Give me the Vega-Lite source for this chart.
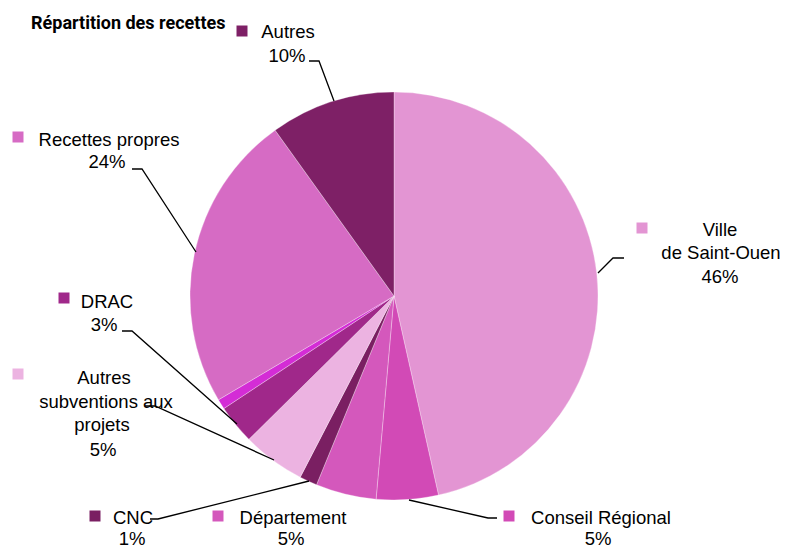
{
  "$schema": "https://vega.github.io/schema/vega-lite/v6.json",
  "width": 784,
  "height": 504,
  "padding": {"left": 2, "top": 44, "right": 0, "bottom": 0},
  "autosize": {"type": "none"},
  "background": "#ffffff",
  "config": {"view": {"stroke": null}},
  "datasets": {
    "slices": [
      {"rank": 1, "source": "Ville de Saint-Ouen", "share": 46.5},
      {"rank": 2, "source": "Conseil Régional", "share": 4.9},
      {"rank": 3, "source": "Département", "share": 4.8},
      {"rank": 4, "source": "CNC", "share": 1.4},
      {"rank": 5, "source": "Autres subventions aux projets", "share": 5.0},
      {"rank": 6, "source": "DRAC", "share": 3.1},
      {"rank": 7, "source": "Divers", "share": 0.8},
      {"rank": 8, "source": "Recettes propres", "share": 23.6},
      {"rank": 9, "source": "Autres", "share": 9.9}
    ],
    "keys": [
      {"source": "Autres", "x": -153, "y": 265},
      {"source": "Ville de Saint-Ouen", "x": 247, "y": 68},
      {"source": "Recettes propres", "x": -377, "y": 159},
      {"source": "DRAC", "x": -331, "y": -2},
      {"source": "Autres subventions aux projets", "x": -377, "y": -78},
      {"source": "CNC", "x": -300, "y": -220},
      {"source": "Département", "x": -177, "y": -220},
      {"source": "Conseil Régional", "x": 114, "y": -220}
    ],
    "labels": [
      {"t": "Autres", "x": -107, "y": 264},
      {"t": "10%", "x": -108, "y": 240},
      {"t": "Ville", "x": 325, "y": 66},
      {"t": "de Saint-Ouen", "x": 326, "y": 43},
      {"t": "46%", "x": 325, "y": 19},
      {"t": "Recettes propres", "x": -286, "y": 156},
      {"t": "24%", "x": -288, "y": 134},
      {"t": "DRAC", "x": -288, "y": -6},
      {"t": "3%", "x": -291, "y": -29},
      {"t": "Autres", "x": -291, "y": -82},
      {"t": "subventions aux", "x": -289, "y": -106},
      {"t": "projets", "x": -293, "y": -129},
      {"t": "5%", "x": -292, "y": -154},
      {"t": "CNC", "x": -262, "y": -222},
      {"t": "1%", "x": -263, "y": -243},
      {"t": "Département", "x": -102, "y": -222},
      {"t": "5%", "x": -104, "y": -243},
      {"t": "Conseil Régional", "x": 206, "y": -222},
      {"t": "5%", "x": 203, "y": -243}
    ],
    "leaders": [
      {"source": "Autres", "step": 1, "x": -86, "y": 235},
      {"source": "Autres", "step": 2, "x": -76, "y": 235},
      {"source": "Autres", "step": 3, "x": -61, "y": 195},
      {"source": "Ville de Saint-Ouen", "step": 1, "x": 229, "y": 38},
      {"source": "Ville de Saint-Ouen", "step": 2, "x": 218, "y": 38},
      {"source": "Ville de Saint-Ouen", "step": 3, "x": 203, "y": 23},
      {"source": "Recettes propres", "step": 1, "x": -263, "y": 127},
      {"source": "Recettes propres", "step": 2, "x": -253, "y": 127},
      {"source": "Recettes propres", "step": 3, "x": -199, "y": 44},
      {"source": "DRAC", "step": 1, "x": -273, "y": -35},
      {"source": "DRAC", "step": 2, "x": -263, "y": -35},
      {"source": "DRAC", "step": 3, "x": -158, "y": -128},
      {"source": "Autres subventions aux projets", "step": 1, "x": -250, "y": -110},
      {"source": "Autres subventions aux projets", "step": 2, "x": -240, "y": -110},
      {"source": "Autres subventions aux projets", "step": 3, "x": -121, "y": -164},
      {"source": "CNC", "step": 1, "x": -245, "y": -223},
      {"source": "CNC", "step": 2, "x": -237, "y": -223},
      {"source": "CNC", "step": 3, "x": -86, "y": -185},
      {"source": "Conseil Régional", "step": 1, "x": 102, "y": -222},
      {"source": "Conseil Régional", "step": 2, "x": 93, "y": -222},
      {"source": "Conseil Régional", "step": 3, "x": 14, "y": -204}
    ],
    "title": [
      {"t": "Répartition  des recettes", "x": -364, "y": 267}
    ]
  },
  "layer": [
    {
      "data": {"name": "slices"},
      "mark": {"type": "arc", "outerRadius": 204, "stroke": "#ffffff", "strokeWidth": 0.6, "strokeOpacity": 0.5},
      "encoding": {
        "theta": {"field": "share", "type": "quantitative", "stack": true},
        "order": {"field": "rank", "type": "quantitative"},
        "color": {
          "field": "source", "type": "nominal", "legend": null,
          "scale": {
            "domain": ["Ville de Saint-Ouen", "Conseil Régional", "Département", "CNC", "Autres subventions aux projets", "DRAC", "Divers", "Recettes propres", "Autres"],
            "range": ["#E395D3", "#D24AB6", "#D458BC", "#7A1F62", "#ECB3E1", "#A0288A", "#D42CD6", "#D66BC4", "#7E2066"]
          }
        }
      }
    },
    {
      "data": {"name": "leaders"},
      "mark": {"type": "line", "color": "#000000", "strokeWidth": 1.3},
      "encoding": {
        "x": {"field": "x", "type": "quantitative", "scale": {"domain": [-393, 391], "nice": false, "zero": false}, "axis": null},
        "y": {"field": "y", "type": "quantitative", "scale": {"domain": [-252, 252], "nice": false, "zero": false}, "axis": null},
        "detail": {"field": "source", "type": "nominal"},
        "order": {"field": "step", "type": "quantitative"}
      }
    },
    {
      "data": {"name": "keys"},
      "mark": {"type": "square", "size": 121, "opacity": 1, "filled": true},
      "encoding": {
        "x": {"field": "x", "type": "quantitative", "scale": {"domain": [-393, 391], "nice": false, "zero": false}, "axis": null},
        "y": {"field": "y", "type": "quantitative", "scale": {"domain": [-252, 252], "nice": false, "zero": false}, "axis": null},
        "color": {"field": "source", "type": "nominal", "legend": null}
      }
    },
    {
      "data": {"name": "labels"},
      "mark": {"type": "text", "font": "Liberation Sans", "fontSize": 18.5, "color": "#000000", "align": "center", "baseline": "middle"},
      "encoding": {
        "x": {"field": "x", "type": "quantitative", "scale": {"domain": [-393, 391], "nice": false, "zero": false}, "axis": null},
        "y": {"field": "y", "type": "quantitative", "scale": {"domain": [-252, 252], "nice": false, "zero": false}, "axis": null},
        "text": {"field": "t", "type": "nominal"}
      }
    },
    {
      "data": {"name": "title"},
      "mark": {"type": "text", "font": "Roboto", "fontWeight": "bold", "fontSize": 18, "letterSpacing": -0.4, "color": "#000000", "align": "left", "baseline": "alphabetic"},
      "encoding": {
        "x": {"field": "x", "type": "quantitative", "scale": {"domain": [-393, 391], "nice": false, "zero": false}, "axis": null},
        "y": {"field": "y", "type": "quantitative", "scale": {"domain": [-252, 252], "nice": false, "zero": false}, "axis": null},
        "text": {"field": "t", "type": "nominal"}
      }
    }
  ]
}
